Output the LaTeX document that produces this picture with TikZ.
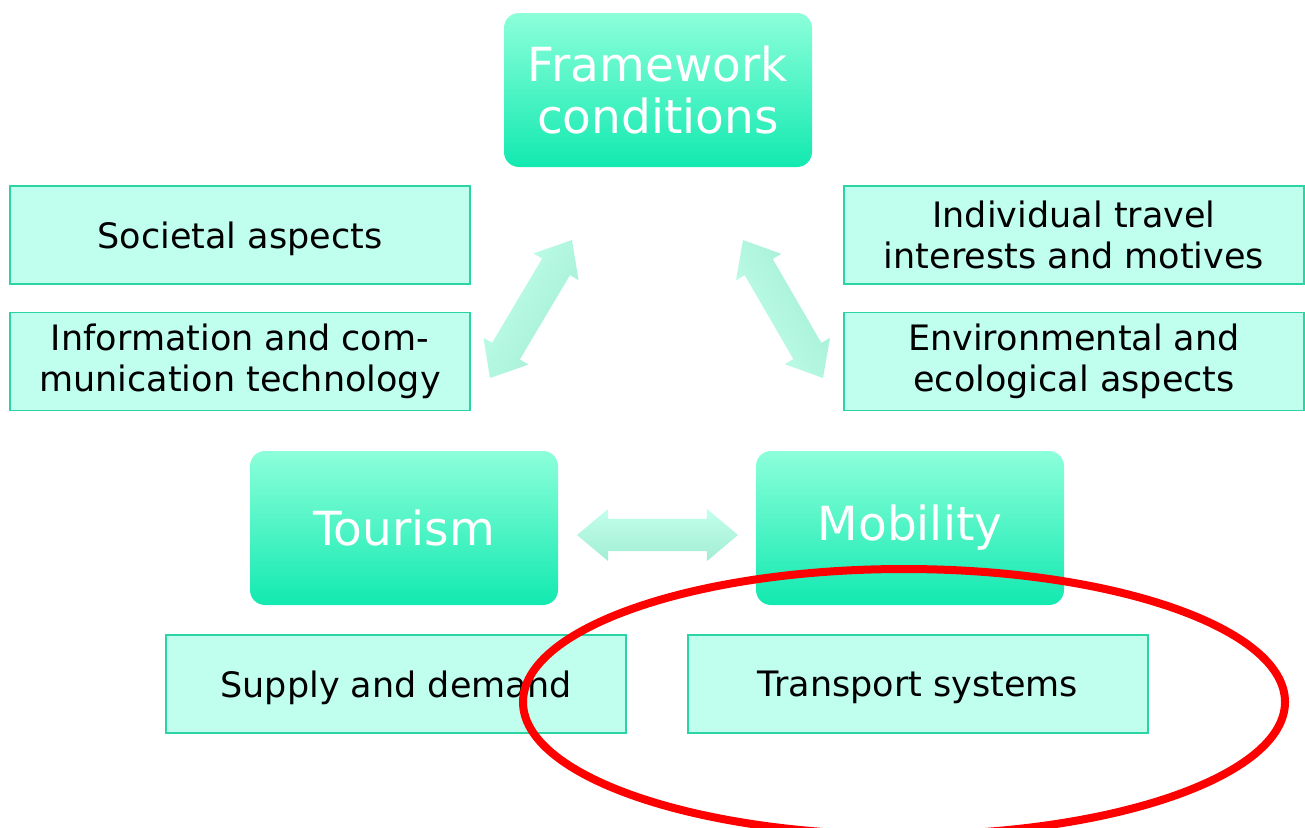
\documentclass[tikz,border=0pt]{standalone}
\usepackage{fontspec}
\setmainfont{DejaVu Sans}
\usetikzlibrary{arrows.meta, positioning, shapes.arrows, calc}
\definecolor{mintfill}{HTML}{C0FFEE}
\definecolor{mintline}{HTML}{2AD4A4}
\definecolor{boxtop}{HTML}{8CFFDA}
\definecolor{boxbot}{HTML}{12E9B0}
\definecolor{arrtop}{HTML}{C2FFEC}
\definecolor{arrbot}{HTML}{A2EDD3}
\tikzset{
  mainbox/.style={rounded corners=15pt, top color=boxtop, bottom color=boxbot, text=white,
    minimum width=308pt, minimum height=154pt, align=center, inner sep=0pt,
    font=\fontsize{47}{52}\selectfont},
  aspect/.style={draw=mintline, line width=1.5pt, fill=mintfill, minimum width=460pt,
    minimum height=98pt, align=center, inner sep=0pt, font=\fontsize{35}{41}\selectfont},
  oneline/.style={text depth=0pt},
  fatarrow/.style={double arrow, top color=arrtop, bottom color=arrbot, minimum width=52pt,
    double arrow head extend=10pt, double arrow tip angle=80, inner xsep=0pt, inner ysep=16pt},
}

\begin{document}
\begin{tikzpicture}[x=1pt, y=-1pt]
\useasboundingbox (0,0) rectangle (1305,827);
\node[mainbox] (frame) at (658,90) {Framework\\conditions};
\node[mainbox] (tour) at (404,528) {Tourism};
\node[mainbox] (mob) at (910,528) {Mobility};

\node[aspect, oneline] (soc) at (240,235) {Societal aspects};
\node[aspect, below=27pt of soc] (ict) {Information and com-\\munication technology};
\node[aspect] (ind) at (1074,235) {Individual travel\\interests and motives};
\node[aspect, below=27pt of ind] (env) {Environmental and\\ecological aspects};
\node[aspect, oneline] (supply) at (396,684) {Supply and demand};
\node[aspect, oneline] (trans) at (918,684) {Transport systems};

% double arrows between the three blocks
\coordinate (l1) at (490,378); \coordinate (l2) at (572,240);
\coordinate (r1) at (823,378); \coordinate (r2) at (743,240);
\coordinate (h1) at (577,535); \coordinate (h2) at (738,535);
\foreach \a/\b in {l1/l2, r1/r2, h1/h2}
  \path let \p1=($(\b)-(\a)$), \n1={atan2(\y1,\x1)} in
    node[fatarrow, rotate=\n1, shading angle=\n1, minimum height={veclen(\x1,\y1)}]
    (arr\a) at ($(\a)!0.5!(\b)$) {};

\draw[red, line width=8pt] (904,702) ellipse [x radius=381, y radius=133];
\end{tikzpicture}
\end{document}
